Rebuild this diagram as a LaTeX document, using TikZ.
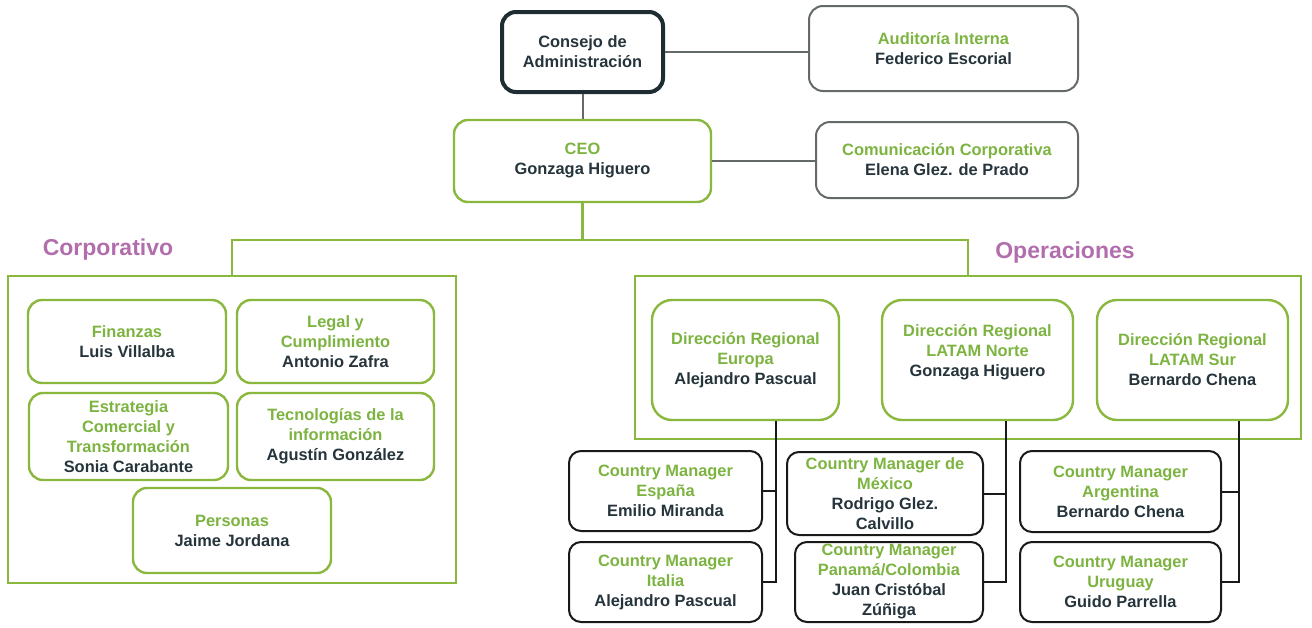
\documentclass[tikz,border=0pt]{standalone}
\usepackage{fontspec}
\setmainfont{Liberation Sans}
\usepackage{tikz}
\usetikzlibrary{positioning, calc}
\definecolor{titlegreen}{RGB}{125,180,65}
\definecolor{boxgreen}{RGB}{138,184,62}
\definecolor{namedark}{RGB}{38,52,60}
\definecolor{headpurple}{RGB}{178,110,172}
\definecolor{boardline}{RGB}{30,45,50}
\definecolor{staffgray}{RGB}{100,105,105}
\newcommand{\orgfont}{\bfseries\fontsize{8.2}{10}\selectfont}
\newcommand{\who}[1]{\textcolor{namedark}{#1}}
\tikzset{%
	board/.style={draw=boardline, line width=2pt, rounded corners=7pt, fill=white,%
		align=center, inner sep=0pt, font=\orgfont, text=namedark},
	staff/.style={draw=staffgray, line width=1pt, rounded corners=7pt, fill=white,%
		align=center, inner sep=0pt, font=\orgfont, text=titlegreen},
	unit/.style={draw=boxgreen, line width=1.2pt, rounded corners=7pt, fill=white,%
		align=center, inner sep=0pt, font=\orgfont, text=titlegreen},
	region/.style={unit, rounded corners=10pt},
	country/.style={draw=black!90, line width=1pt, rounded corners=6pt, fill=white,%
		align=center, inner sep=0pt, font=\orgfont, text=titlegreen},
	group/.style={draw=boxgreen, line width=1.2pt, rectangle, inner sep=0pt},
	grouplabel/.style={text=headpurple, font=\bfseries\fontsize{11.5}{13}\selectfont},
	staffline/.style={draw=staffgray, line width=1pt},
	branch/.style={draw=boxgreen, line width=1.2pt},
	feeder/.style={draw=black!90, line width=1pt}
}

\begin{document}
\begin{tikzpicture}[x=0.5pt, y=-0.5pt]
	\useasboundingbox (0,0) rectangle (1312,627);

	% top of the chart
	\node[board, minimum width=80.5pt, minimum height=40pt] (consejo) at (582.5,52) {Consejo de\\Administración};
	\node[staff, minimum width=134.5pt, minimum height=42.5pt] (auditoria) at (943.5,48.5) {Auditoría Interna\\\who{Federico Escorial}};
	\node[unit, minimum width=128.5pt, minimum height=41pt] (ceo) at (582.5,161) {CEO\\\who{Gonzaga Higuero}};
	\node[staff, minimum width=131pt, minimum height=38pt] (comunicacion) at (947,160) {Comunicación Corporativa\\\who{Elena Glez. de Prado}};

	\draw[staffline] (consejo.east) -- (consejo.east -| auditoria.west);
	\draw[staffline] (consejo.south) -- (consejo.south |- ceo.north);
	\draw[staffline] (ceo.east) -- (ceo.east -| comunicacion.west);

	% the two groups
	\node[group, minimum width=224pt, minimum height=153.5pt] (corp) at (232,429.5) {};
	\node[group, minimum width=333pt, minimum height=81.5pt] (ops) at (968,357.5) {};
	\node[grouplabel] (corplabel) at (108,250) {Corporativo};
	\node[grouplabel] (opslabel) at (1065,253) {Operaciones};

	\coordinate (split) at (582.5,240);
	\draw[branch] (ceo.south) -- (split) -| (corp.north);
	\draw[branch] (split) -| (ops.north);

	% corporativo
	\node[unit, minimum width=99pt, minimum height=41.5pt] (finanzas) at (127,341.5) {Finanzas\\\who{Luis Villalba}};
	\node[unit, minimum width=98.5pt, minimum height=41.5pt] (legal) at (335.5,341.5) {Legal y\\Cumplimiento\\\who{Antonio Zafra}};
	\node[unit, minimum width=99.5pt, minimum height=43.5pt] (estrategia) at (128.5,436.5) {Estrategia\\Comercial y\\Transformación\\\who{Sonia Carabante}};
	\node[unit, minimum width=98.5pt, minimum height=43.5pt] (tecnologias) at (335.5,436.5) {Tecnologías de la\\información\\\who{Agustín González}};
	\node[unit, minimum width=99pt, minimum height=42.5pt] (personas) at (232,530.5) {Personas\\\who{Jaime Jordana}};

	% operaciones
	\node[region, minimum width=93.5pt, minimum height=60pt] (europa) at (745.5,360) {Dirección Regional\\Europa\\\who{Alejandro Pascual}};
	\node[region, minimum width=95.5pt, minimum height=60pt] (norte) at (977.5,360) {Dirección Regional\\LATAM Norte\\\who{Gonzaga Higuero}\\\mbox{}};
	\node[region, minimum width=95.5pt, minimum height=60pt] (sur) at (1192.5,360) {Dirección Regional\\LATAM Sur\\\who{Bernardo Chena}};

	\node[country, minimum width=96.5pt, minimum height=40pt] (espana) at (665.5,491) {Country Manager\\España\\\who{Emilio Miranda}};
	\node[country, minimum width=96.5pt, minimum height=40pt] (italia) at (665.5,582) {Country Manager\\Italia\\\who{Alejandro Pascual}};
	\node[country, minimum width=98pt, minimum height=41.5pt] (mexico) at (885,493.5) {Country Manager de\\México\\\who{Rodrigo Glez.}\\\who{Calvillo}};
	\node[country, minimum width=94pt, minimum height=40pt] (panama) at (889,582) {Country Manager\\Panamá/Colombia\\\who{Juan Cristóbal}\\\who{Zúñiga}};
	\node[country, minimum width=100.5pt, minimum height=40.5pt] (argentina) at (1120.5,491.5) {Country Manager\\Argentina\\\who{Bernardo Chena}};
	\node[country, minimum width=100.5pt, minimum height=40pt] (uruguay) at (1120.5,582) {Country Manager\\Uruguay\\\who{Guido Parrella}};

	\coordinate (eudrop) at ($(europa.south)+(30.5,0)$);
	\coordinate (nodrop) at ($(norte.south)+(28.5,0)$);
	\coordinate (sudrop) at ($(sur.south)+(46.5,0)$);
	\draw[feeder] (eudrop) |- (espana.east);
	\draw[feeder] (eudrop) |- (italia.east);
	\draw[feeder] (nodrop) |- (mexico.east);
	\draw[feeder] (nodrop) |- (panama.east);
	\draw[feeder] (sudrop) |- (argentina.east);
	\draw[feeder] (sudrop) |- (uruguay.east);
\end{tikzpicture}
\end{document}
